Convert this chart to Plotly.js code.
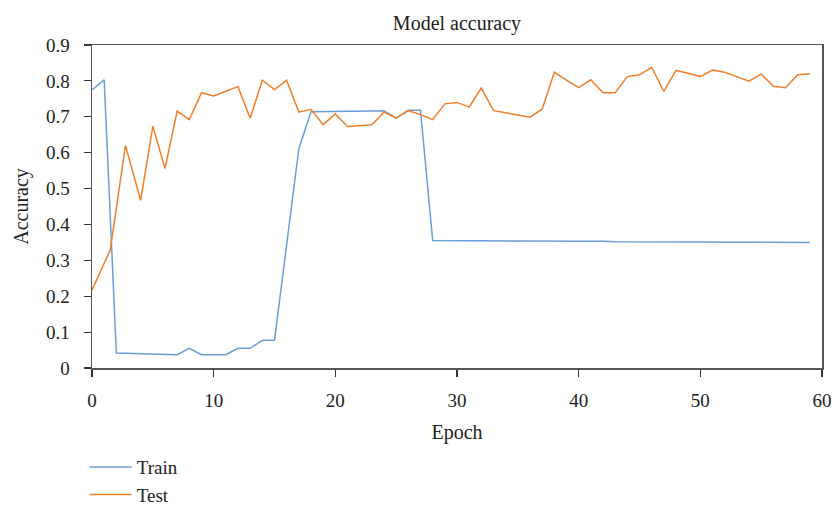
<!DOCTYPE html>
<html>
<head>
<meta charset="utf-8">
<script src="https://cdn.plot.ly/plotly-3.0.1.min.js"></script>
<style>html,body{margin:0;padding:0;background:#fff;}#chart{width:834px;height:508px;}</style>
</head>
<body>
<div id="chart"></div>
<script>
const trainEpochs = [0,1,2,3,4,5,6,7,8,9,10,11,12,13,14,15,16,17,18,19,20,21,22,23,24,25,26,27,28,29,30,31,32,33,34,35,36,37,38,39,40,41,42,43,44,45,46,47,48,49,50,51,52,53,54,55,56,57,58,59];
const trainAcc = [0.775,0.803,0.042,0.041,0.040,0.039,0.038,0.037,0.055,0.037,0.037,0.037,0.055,0.055,0.077,0.077,0.344,0.611,0.714,0.714,0.715,0.715,0.716,0.716,0.717,0.696,0.718,0.718,0.355,0.355,0.355,0.355,0.354,0.354,0.354,0.354,0.354,0.353,0.353,0.353,0.353,0.353,0.353,0.352,0.352,0.352,0.352,0.352,0.352,0.351,0.351,0.351,0.351,0.351,0.351,0.351,0.350,0.350,0.350,0.350];

const testEpochs = [0,1.5,2.75,4,5,6,7,8,9,10,11,12,13,14,15,16,17,18,19,20,21,22,23,24,25,26,27,28,29,30,31,32,33,34,35,36,37,38,39,40,41,42,43,44,45,46,47,48,49,50,51,52,53,54,55,56,57,58,59];
const testAcc = [0.217,0.329,0.620,0.467,0.674,0.556,0.716,0.692,0.767,0.758,0.771,0.784,0.696,0.802,0.776,0.802,0.713,0.721,0.678,0.708,0.673,0.676,0.678,0.713,0.696,0.717,0.706,0.692,0.736,0.740,0.727,0.780,0.717,0.711,0.705,0.699,0.721,0.824,0.802,0.781,0.803,0.767,0.767,0.812,0.817,0.838,0.771,0.829,0.821,0.812,0.830,0.824,0.812,0.799,0.819,0.785,0.781,0.817,0.820];

const seriesNames = ['Train','Test'];
const fontFam = '"Liberation Serif", "DejaVu Serif", serif';
const axisColor = '#555555';
const txt = '#222222';

const traces = [
  {x: trainEpochs, y: trainAcc, name: seriesNames[0], type: 'scatter', mode: 'lines',
   line: {color: '#6a9fd8', width: 1.5}},
  {x: testEpochs, y: testAcc, name: seriesNames[1], type: 'scatter', mode: 'lines',
   line: {color: '#f07f2a', width: 1.5}}
];

const layout = {
  width: 834, height: 508,
  margin: {l: 92, r: 12, t: 45, b: 140},
  paper_bgcolor: '#fff', plot_bgcolor: '#fff',
  font: {family: fontFam, size: 19, color: txt},
  title: {text: 'Model accuracy', x: 0.5, xref: 'paper', y: 0.955, yref: 'container', yanchor: 'middle',
          font: {family: fontFam, size: 20, color: txt}},
  xaxis: {range: [0, 60], dtick: 10, tick0: 0, showgrid: false, zeroline: false,
          showline: true, mirror: true, linecolor: axisColor, linewidth: 1.5,
          ticks: 'outside', ticklen: 7, tickwidth: 1.2, tickcolor: '#333',
          ticklabelstandoff: 8,
          tickfont: {family: fontFam, size: 19, color: txt},
          title: {text: 'Epoch', standoff: 14, font: {family: fontFam, size: 20, color: txt}}},
  yaxis: {range: [0, 0.9], dtick: 0.1, tick0: 0, showgrid: false, zeroline: false,
          showline: true, mirror: true, linecolor: axisColor, linewidth: 1.5,
          ticks: 'outside', ticklen: 7, tickwidth: 1.2, tickcolor: '#333',
          ticklabelstandoff: 10,
          tickfont: {family: fontFam, size: 19, color: txt},
          title: {text: 'Accuracy', standoff: 12, font: {family: fontFam, size: 20, color: txt}}},
  showlegend: true,
  legend: {x: -0.01, xref: 'paper', xanchor: 'left', y: 0.118, yref: 'container', yanchor: 'top',
           orientation: 'v', itemwidth: 42,
           font: {family: fontFam, size: 19, color: txt}, bgcolor: 'rgba(0,0,0,0)'}
};

Plotly.newPlot('chart', traces, layout, {displayModeBar: false, staticPlot: true});
</script>
</body>
</html>
